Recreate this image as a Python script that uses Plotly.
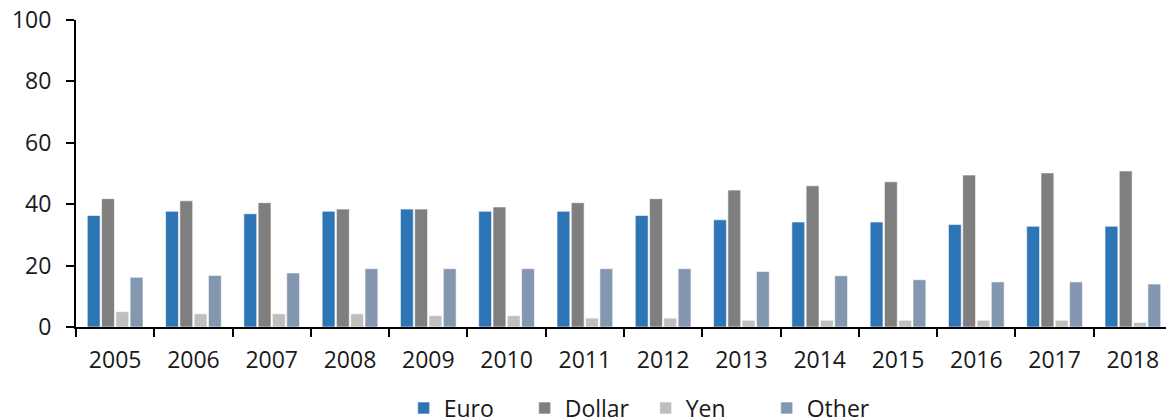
import plotly.graph_objects as go

years = ["2005", "2006", "2007", "2008", "2009", "2010", "2011", "2012", "2013", "2014", "2015", "2016", "2017", "2018"]
euro = [36.3, 37.7, 36.9, 37.7, 38.4, 37.7, 37.7, 36.3, 34.9, 34.2, 34.2, 33.4, 32.8, 32.8]
dollar = [41.8, 41.1, 40.5, 38.4, 38.4, 39.1, 40.5, 41.8, 44.6, 46.0, 47.3, 49.5, 50.2, 50.8]
yen = [5.0, 4.3, 4.3, 4.3, 3.7, 3.7, 2.9, 2.9, 2.2, 2.2, 2.2, 2.2, 2.2, 1.5]
other = [16.2, 16.8, 17.6, 19.0, 19.0, 19.0, 19.0, 19.0, 18.1, 16.7, 15.4, 14.7, 14.7, 14.0]

series_names = ["Euro", "Dollar", "Yen", "Other"]
series_values = [euro, dollar, yen, other]
colors = ["#2E75B6", "#7F7F7F", "#BFBFBF", "#8497B0"]

fig = go.Figure()
for name, vals, c in zip(series_names, series_values, colors):
    fig.add_trace(go.Bar(x=years, y=vals, name=name, marker=dict(color=c, line=dict(color="rgba(255,255,255,0.6)", width=1))))

font_family = "Open Sans, sans-serif"
fig.update_layout(
    width=1174, height=420,
    margin=dict(l=68, r=10, t=12, b=101, autoexpand=False),
    paper_bgcolor="white", plot_bgcolor="white",
    barmode="group", bargap=0.27, bargroupgap=0.1,
    font=dict(family=font_family, size=23, color="#1a1a1a"),
    showlegend=True,
    legend=dict(orientation="h", x=0.299, xanchor="left", y=-0.264, yanchor="middle",
                font=dict(size=23), traceorder="normal", itemwidth=30,
                entrywidth=76, entrywidthmode="pixels"),
    xaxis=dict(type="category", showline=True, linecolor="black", linewidth=2, automargin=False,
               ticks="outside", tickson="boundaries", ticklen=8, tickwidth=2, tickcolor="black",
               showgrid=False, ticklabelstandoff=11),
    yaxis=dict(range=[0, 100], tickvals=[0, 20, 40, 60, 80, 100], showline=True, linecolor="black", linewidth=2,
               automargin=False, ticklabeloverflow="allow",
               ticks="outside", ticklen=8, tickwidth=2, tickcolor="black", showgrid=False, zeroline=False,
               ticklabelstandoff=10),
)
fig.write_html("out.html")
